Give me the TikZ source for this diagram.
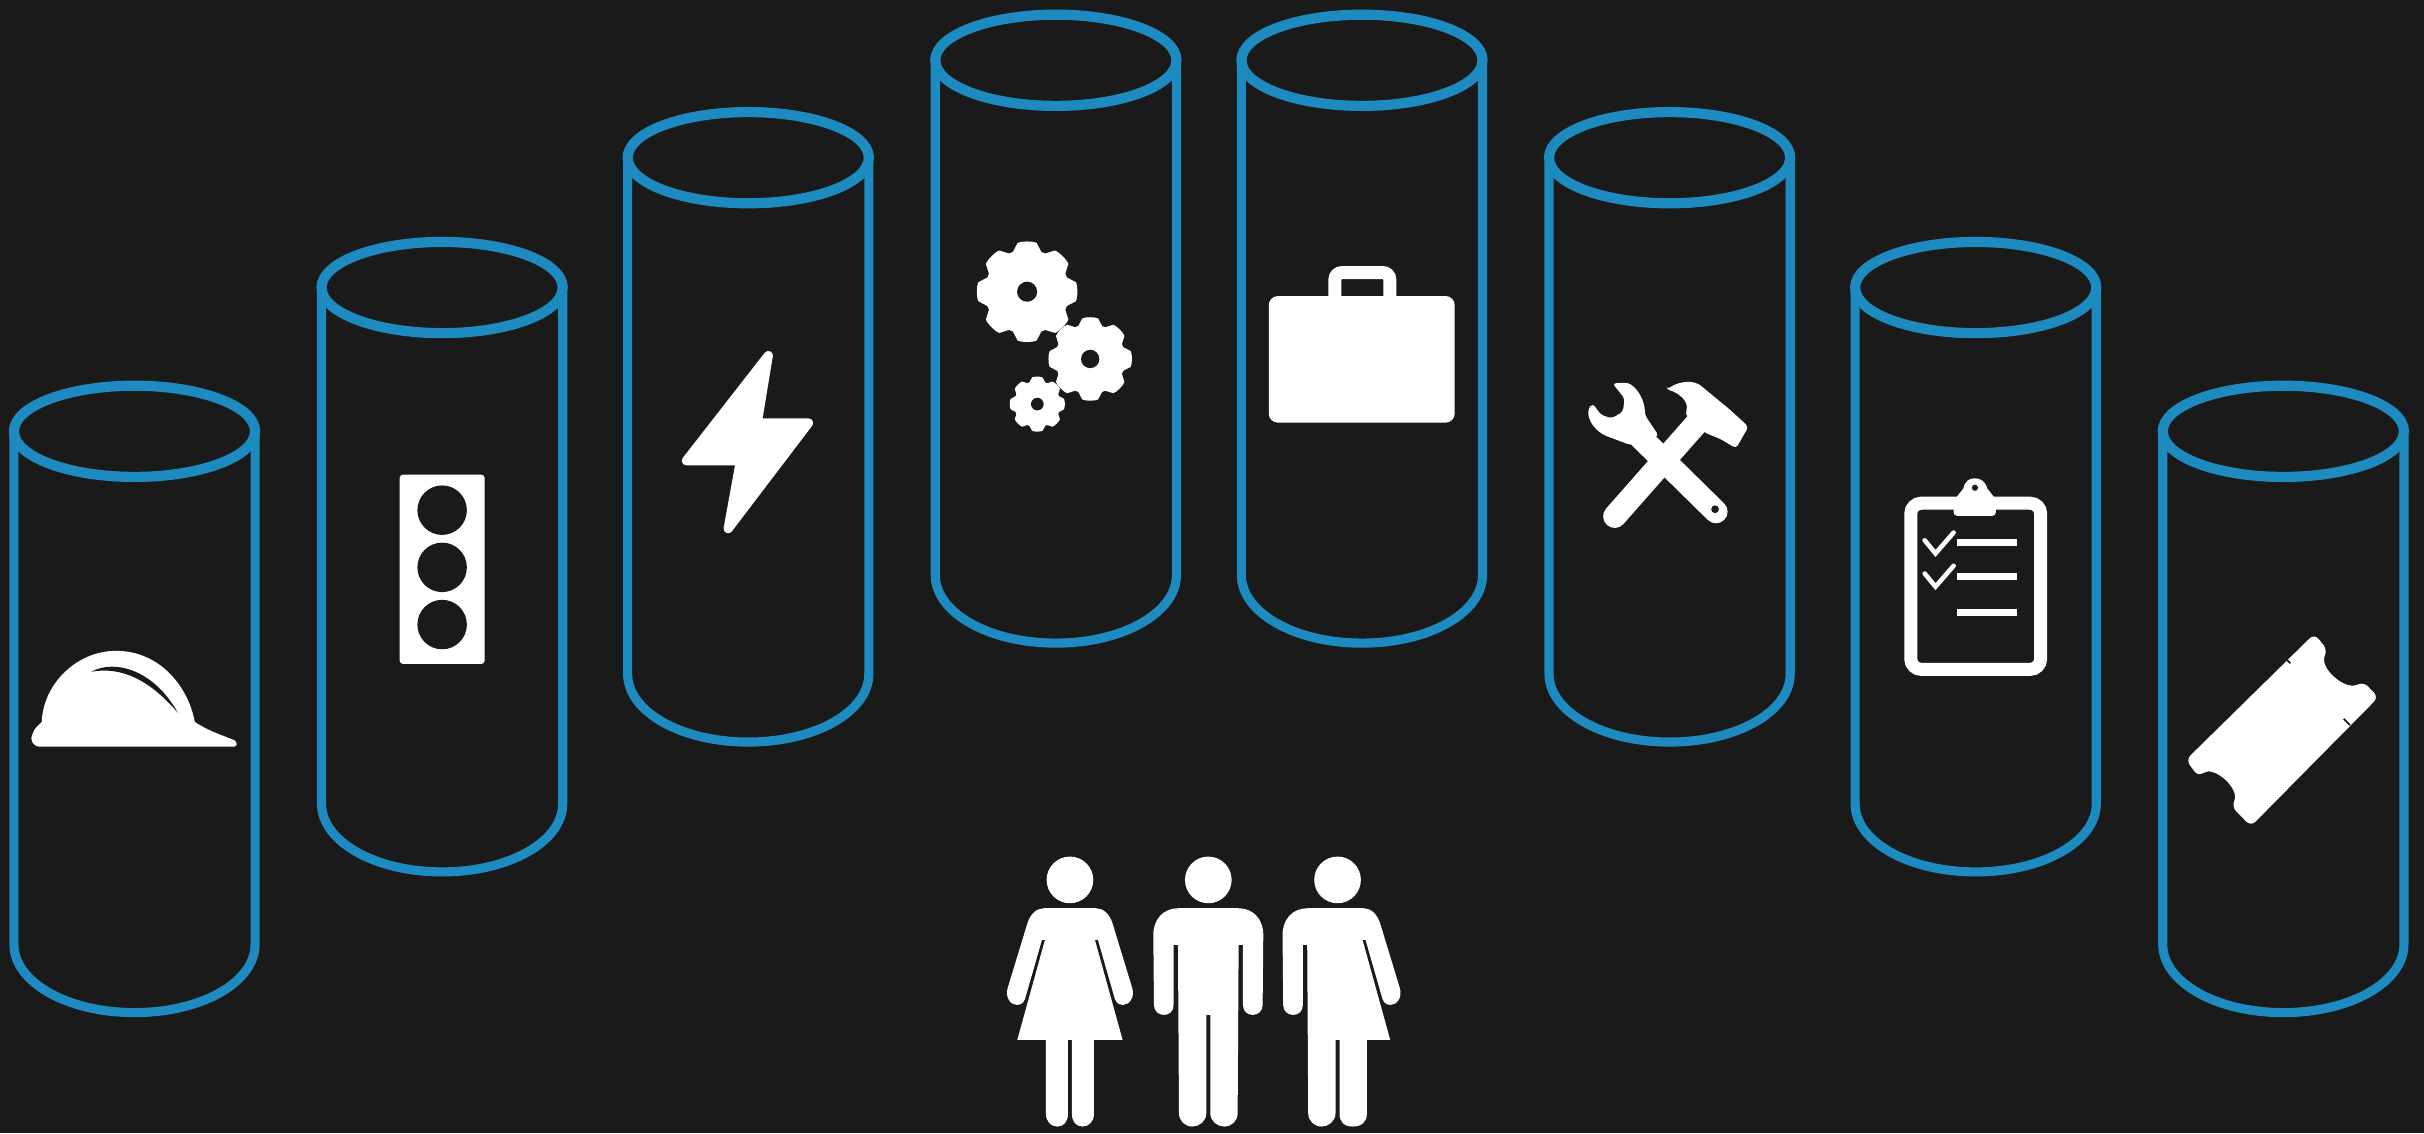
\documentclass[tikz,border=0pt]{standalone}
\definecolor{bgc}{HTML}{1A1A1A}
\definecolor{cylblue}{HTML}{1E8BC0}
\newcommand{\cyl}[3]{%
  \draw[cylrim] (#1,#2) ellipse [x radius=78, y radius=29.5];
  \draw[cylline] ({#1-78},{#2+3}) -- ({#1-78},{#3-44})
    .. controls ({#1-78},{#3-20}) and ({#1-44},#3) .. (#1,#3)
    .. controls ({#1+44},#3) and ({#1+78},{#3-20}) .. ({#1+78},{#3-44})
    -- ({#1+78},{#2+3});
}
\newcommand{\gearicon}[4]{%
  \begin{scope}[shift={(#1,#2)},scale=#3]
    \fill[icon] (0,0) circle [radius=0.84];
    \foreach \a in {0,45,...,315}
      \fill[icon,rotate=\a] (-0.3,0.76) -- (-0.19,0.97) .. controls (-0.12,1.01) and (0.12,1.01) .. (0.19,0.97) -- (0.3,0.76) -- cycle;
    \fill[hole] (0,0) circle [radius=#4];
  \end{scope}
}
% right half of a man, #1 = top of the leg gap
\newcommand{\manhalf}[1]{%
  \fill[icon] (-1,205) -- (90,205) .. controls (135,205) and (165,238) .. (165,285)
    -- (163,495) .. controls (163,515) and (148,525) .. (133,525)
    .. controls (118,525) and (104,515) .. (104,495) -- (104,315) -- (91,315)
    -- (88,820) .. controls (88,843) and (70,860) .. (48,860)
    .. controls (26,860) and (6,843) .. (6,820) -- (6,#1) -- (-1,#1) -- cycle;
}
% right half of a woman, #1 = outer edge of the leg
\newcommand{\womanhalf}[1]{%
  \fill[icon] (-1,205) -- (78,205) .. controls (100,205) and (118,222) .. (127,248)
    -- (187,445) .. controls (195,472) and (178,495) .. (160,495)
    .. controls (148,495) and (140,490) .. (135,478) -- (84,300) -- (75,300)
    -- (158,600) -- (#1,600) -- (#1,822)
    .. controls (#1,845) and ({#1-15},860) .. ({#1*0.5+2},860)
    .. controls (18,860) and (6,845) .. (6,822) -- (6,600) -- (-1,600) -- cycle;
}
\tikzset{
  cylline/.style={draw=cylblue,line width=2.6pt},
  cylrim/.style={draw=cylblue,line width=2.9pt},
  icon/.style={fill=white},
  hole/.style={fill=bgc},
  thinwhite/.style={draw=white,line cap=round}
}
\begin{document}
\begin{tikzpicture}[x=0.01546cm,y=-0.01546cm]
\useasboundingbox (0,0) rectangle (1568,733);
\fill[bgc] (0,0) rectangle (1568,733);

% cylinders
\cyl{87}{279}{655}
\cyl{286}{186}{564}
\cyl{484}{102}{480}
\cyl{683}{39}{416}
\cyl{881}{39}{416}
\cyl{1080}{102}{480}
\cyl{1278}{186}{564}
\cyl{1477}{279}{655}

% hard hat
\fill[icon] (26,483) .. controls (21,483) and (19,478) .. (21,475)
  .. controls (22,471) and (25,469) .. (27,467)
  .. controls (28,442) and (50,421) .. (75,421)
  .. controls (104,421) and (122,445) .. (126,467)
  .. controls (135,473) and (145,476) .. (152,479) .. controls (154,481) and (153,483) .. (151,483) -- cycle;
\fill[hole] (59,434.5) .. controls (75,426) and (100,434) .. (115,461)
  .. controls (97,440) and (79,431) .. (59,434.5) -- cycle;

% traffic light
\fill[icon,rounded corners=1pt] (258.5,307) rectangle (313.5,429.5);
\foreach \yy in {330,367,404}
  \fill[hole] (286,\yy) circle [radius=16];

% lightning bolt
\filldraw[draw=white,fill=white,line width=2.6pt,line join=round]
  (497,230) -- (489.8,273.6) -- (523,273.6) -- (471,342) -- (479,298) -- (444,298) -- cycle;

% gears
\gearicon{664.4}{188.7}{32.5}{0.2}
\gearicon{705.2}{232.2}{27}{0.22}
\gearicon{671}{261.4}{17.8}{0.23}

% briefcase
\fill[icon,rounded corners=2.6pt] (820.7,191.5) rectangle (941,273.4);
\draw[white,line width=3.7pt,rounded corners=2pt] (863.5,195) -- (863.5,176.3) -- (899,176.3) -- (899,195);

% wrench and hammer
\draw[white,line width=6.6pt,line cap=round] (1110,331) -- (1052,274);
\draw[white,line width=6.6pt,line cap=round] (1044.5,334) -- (1100,271);
\fill[icon,rounded corners=1pt] (1030.3,261) .. controls (1026,266) and (1027,274) .. (1037.4,281.4)
  -- (1055,288) -- (1073,282) -- (1064,268.4) .. controls (1064,260) and (1060,252) .. (1053,247.5)
  -- (1043,248) -- (1050.9,257.7) -- (1049.8,266.3)
  -- (1042.7,270.6) -- (1035.6,268.4) -- cycle;
\fill[icon,rounded corners=1pt] (1078,252) .. controls (1087,246) and (1096,246) .. (1102,251)
  -- (1119,265) -- (1131,276) -- (1123,290) -- (1113,284) -- (1103,280) -- (1090,268)
  .. controls (1093,260) and (1086,254) .. (1078,252) -- cycle;
\fill[hole] (1109.4,329.4) circle [radius=2.5];

% clipboard
\draw[white,line width=3.7pt,rounded corners=3pt] (1236,325.5) rectangle (1320,433);
\fill[icon,rounded corners=1pt] (1263.7,322) -- (1291,322) -- (1291,333.7) -- (1263.7,333.7) -- cycle;
\fill[icon] (1264.4,323) -- (1270,316) .. controls (1271,311) and (1274,309.4) .. (1277.5,309.4)
  .. controls (1281,309.4) and (1284,311) .. (1285.5,316) -- (1291,323) -- cycle;
\fill[hole] (1277.5,315.5) circle [radius=2];
\foreach \dy in {0,21.5}{
  \draw[thinwhite,line width=1.3pt] (1245,{349.5+\dy}) -- (1252,{358+\dy}) -- (1263.7,{344.5+\dy});
}
\foreach \yy in {351,373,396.3}
  \draw[white,line width=2pt] (1266,\yy) -- (1304.5,\yy);

% ticket
\fill[icon,rounded corners=1.8pt] (1497,410) -- (1505.6,420.4)
  .. controls (1500,432) and (1517,447) .. (1528.7,440.9) -- (1538.5,451) -- (1456,534.5)
  -- (1443.5,521.7) .. controls (1449,510) and (1432,495) .. (1422,502.4) -- (1414,491.5) -- cycle;
\draw[bgc,line width=0.5pt] (1478,425.5) -- (1481.5,429);
\draw[bgc,line width=0.5pt] (1516,465) -- (1520,469);

% people
\begin{scope}[shift={(692.1,543.3)},scale=0.2156]
  \fill[icon] (0,120) circle [radius=70];
  \womanhalf{72}
  \begin{scope}[xscale=-1]\womanhalf{72}\end{scope}
\end{scope}
\begin{scope}[shift={(781.6,543.3)},scale=0.2156]
  \fill[icon] (0,120) circle [radius=70];
  \manhalf{525}
  \begin{scope}[xscale=-1]\manhalf{525}\end{scope}
\end{scope}
\begin{scope}[shift={(865.2,543.3)},scale=0.2156]
  \fill[icon] (0,120) circle [radius=70];
  \womanhalf{88}
  \begin{scope}[xscale=-1]\manhalf{600}\end{scope}
\end{scope}
\end{tikzpicture}
\end{document}
